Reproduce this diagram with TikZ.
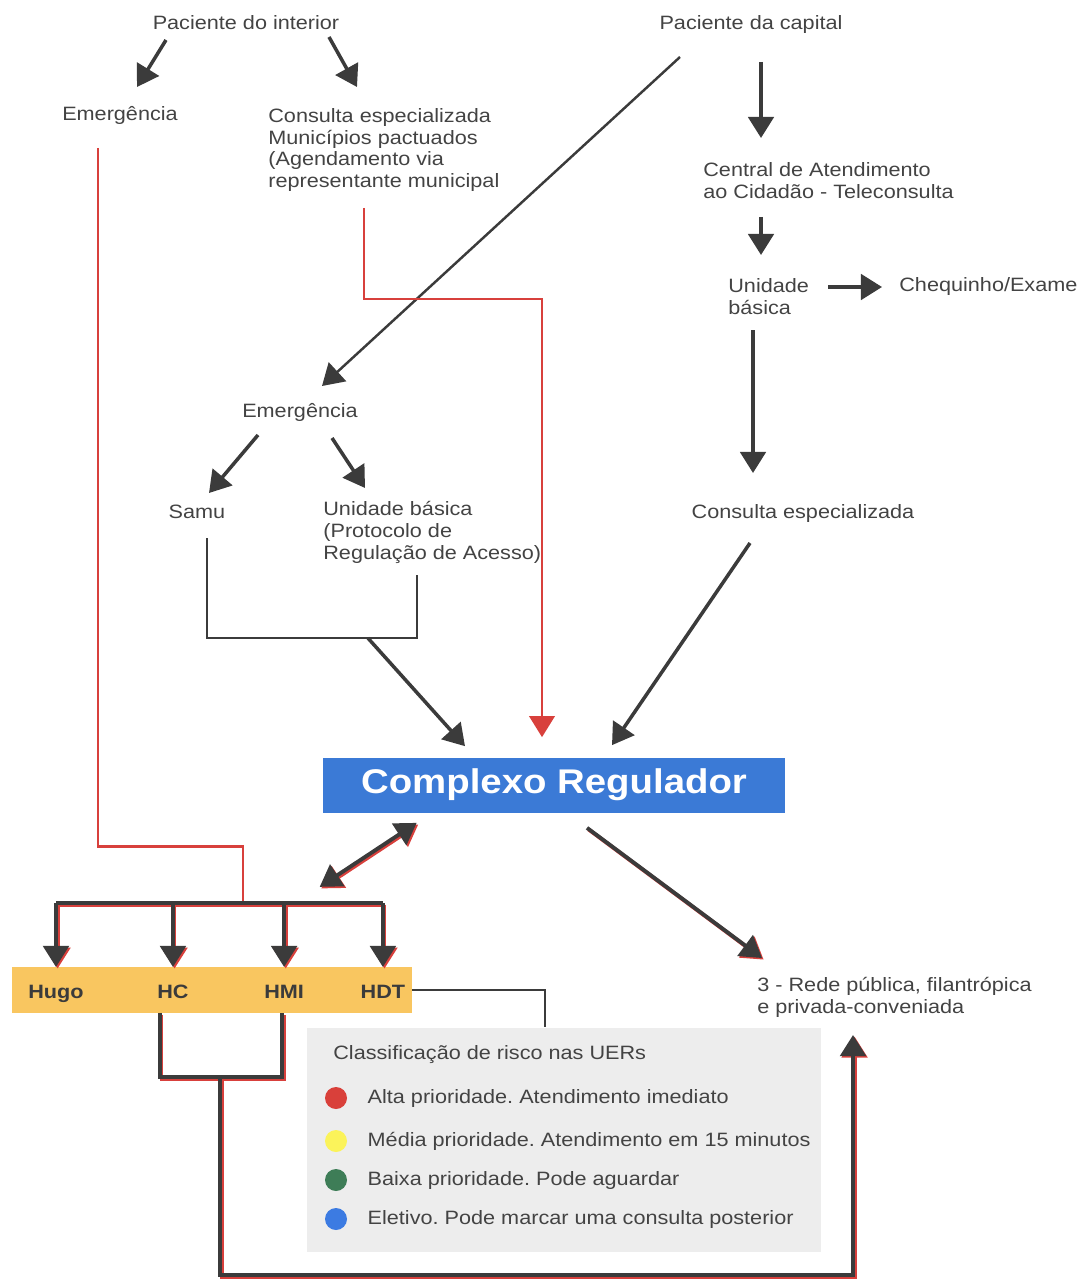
\documentclass[tikz,border=0pt]{standalone}
\usepackage{fontspec}
\setmainfont{Liberation Sans}[FakeStretch=1.12]
\usetikzlibrary{positioning,arrows.meta,calc}
\frenchspacing
\definecolor{ink}{HTML}{3B3B3B}
\definecolor{txtgray}{HTML}{434343}
\definecolor{redline}{HTML}{D8403C}
\definecolor{cregblue}{HTML}{3B7AD6}
\definecolor{hospyellow}{HTML}{F9C660}
\definecolor{legendgray}{HTML}{EDEDED}
\definecolor{dotred}{HTML}{D9403A}
\definecolor{dotyellow}{HTML}{FBF35A}
\definecolor{dotgreen}{HTML}{3E7D57}
\definecolor{dotblue}{HTML}{3C7BE2}
\tikzset{
	lbl/.style={text=txtgray, font=\fontsize{11}{12.5}\selectfont, align=left, inner sep=0pt},
	hosp/.style={text=ink, font=\fontsize{11}{12.5}\selectfont\bfseries, inner sep=0pt, text height=8pt, text depth=0pt},
	headtip/.style={-{Triangle[width=14.5pt,length=12pt]}},
	flow/.style={draw=ink, line width=2pt, headtip},
	thinflow/.style={draw=ink, line width=1.2pt},
	redflow/.style={draw=redline, line width=1.4pt},
	duoflow/.style={draw=ink, line width=2.2pt, preaction={draw=redline, line width=2.2pt, transform canvas={shift={(0.9pt,-0.9pt)}}}},
	riskdot/.style={circle, inner sep=0pt, minimum size=0.44cm},
}
\begin{document}
\begin{tikzpicture}[x=0.02cm, y=-0.02cm]
	\useasboundingbox (0,0) rectangle (1090,1284);

	\node[lbl] (pint) at (246,23) {Paciente do interior};
	\node[lbl] (emL) at (120,115) {Emergência};
	\node[lbl, anchor=west] (consE) at (268,150) {Consulta especializada\\Municípios pactuados\\(Agendamento via\\representante municipal};
	\node[lbl] (pcap) at (751,25) {Paciente da capital};
	\node[lbl, anchor=west] (central) at (703,181) {Central de Atendimento\\ao Cidadão - Teleconsulta};
	\node[lbl, anchor=west] (ubas) at (728,297) {Unidade\\básica};
	\node[lbl, anchor=west] (cheq) at (899,287) {Chequinho/Exame};
	\node[lbl] (consC) at (803,513) {Consulta especializada};
	\node[lbl] (emM) at (300,412) {Emergência};
	\node[lbl] (samu) at (197,512) {Samu};
	\node[lbl, anchor=west] (ubM) at (323,532) {Unidade básica\\(Protocolo de\\Regulação de Acesso)};

	\node[fill=cregblue, text=white, font=\fontsize{19.5}{22}\selectfont\bfseries, minimum width=9.24cm, minimum height=1.1cm] (creg) at (554,785) {Complexo Regulador};

	\node[fill=hospyellow, minimum width=8cm, minimum height=0.92cm] (bar) at (212,990) {};
	\node[hosp] (hugo) at (56,991) {Hugo};
	\node[hosp, right=1.46cm of hugo] (hc) {HC};
	\node[hosp, right=1.5cm of hc] (hmi) {HMI};
	\node[hosp, right=1.12cm of hmi] (hdt) {HDT};

	\node[lbl, anchor=west] (rede) at (757,997) {3 - Rede pública, filantrópica\\e privada-conveniada};

	\node[fill=legendgray, minimum width=10.3cm, minimum height=4.5cm] (legend) at (564,1140) {};
	\node[lbl, anchor=west] (risk) at (333,1055) {Classificação de risco nas UERs};
	\foreach \c/\y/\t [count=\i] in {dotred/1098/Alta prioridade. Atendimento imediato, dotyellow/1141/Média prioridade. Atendimento em 15 minutos, dotgreen/1180/Baixa prioridade. Pode aguardar, dotblue/1219/Eletivo. Pode marcar uma consulta posterior}{
		\node[riskdot, fill=\c] (dot\i) at (336,\y) {};
		\node[lbl, right=0.4cm of dot\i] (item\i) {\t};
	}

	\draw[flow] ($(pint)+(-80,17)$) -- ($(emL)+(17,-28)$);
	\draw[flow] ($(pint)+(83,14)$) -- ($(consE.west)+(89,-63)$);
	\draw[flow, line width=1.4pt] ($(pcap)+(-71,32)$) -- ($(emM)+(22,-26)$);
	\draw[flow] ($(pcap)+(10,37)$) -- ($(central.west)+(58,-43)$);
	\draw[flow] ($(central.west)+(58,36)$) -- ($(ubas.west)+(33,-42)$);
	\draw[flow] ($(ubas.west)+(100,-10)$) -- ($(cheq.west)+(-17,0)$);
	\draw[flow] ($(ubas.west)+(25,33)$) -- ($(consC)+(-50,-40)$);
	\draw[flow] ($(consC)+(-53,30)$) -- ($(creg.north)+(58,-12)$);
	\draw[flow] ($(emM)+(-42,23)$) -- ($(samu)+(12,-19)$);
	\draw[flow] ($(emM)+(32,26)$) -- ($(ubM.west)+(42,-44)$);

	\draw[thinflow] ($(samu)+(10,26)$) |- coordinate[pos=0.883] (jn) ($(ubM.west)+(94,106)$) -- ($(ubM.west)+(94,43)$);
	\draw[flow] (jn) -- ($(creg.north)+(-89,-11)$);

	\draw[redflow, headtip] ($(consE.west)+(96,58)$) |- ($(creg.north)+(-12,-458)$) -- ($(creg.north)+(-12,-20)$);
	\draw[redflow] ($(emL)+(-22,33)$) |- ($(bar.north)+(31,-120)$) -- ($(bar.north)+(31,-64)$);

	\draw[duoflow] ($(hugo)+(0,-88)$) -- ($(hdt)+(0,-88)$);
	\foreach \h in {hugo,hc,hmi,hdt}
		\draw[duoflow, headtip] ($(\h)+(0,-88)$) -- ($(\h)+(0,-24)$);

	\draw[duoflow, {Triangle[width=14.5pt,length=12pt]}-{Triangle[width=14.5pt,length=12pt]}] ($(creg.south west)+(-3,74)$) -- ($(creg.south west)+(94,10)$);
	\draw[duoflow, headtip] ($(creg.south)+(33,15)$) -- ($(rede.west)+(5,-39)$);

	\draw[thinflow] (bar.east) -| ($(legend.north)+(-19,0)$);
	\draw[duoflow] ($(hc)+(-13,22)$) |- coordinate[pos=0.746] (jn2) ($(hmi)+(-2,86)$) -- ($(hmi)+(-2,22)$);
	\draw[duoflow, headtip] (jn2) |- ($(rede.west)+(96,278)$) -- ($(rede.west)+(96,38)$);
\end{tikzpicture}
\end{document}
